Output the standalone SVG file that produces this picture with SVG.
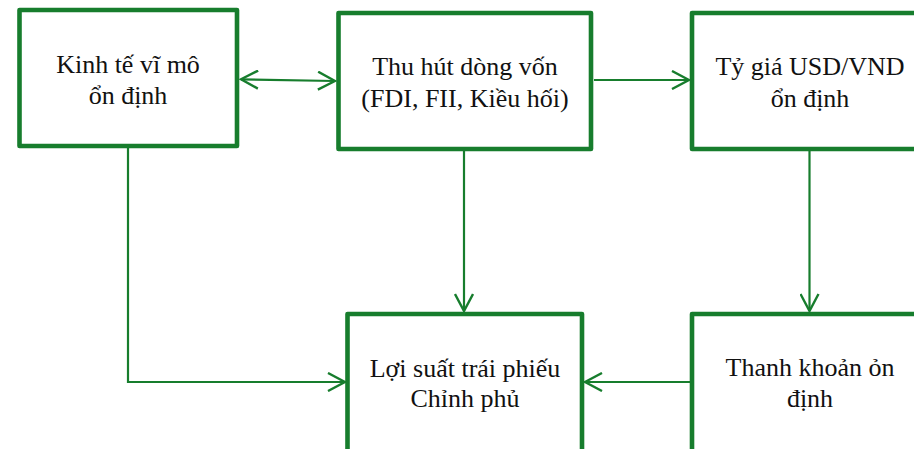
<svg xmlns="http://www.w3.org/2000/svg" width="914" height="449" viewBox="0 0 914 449">
<style>
.box{fill:#fff;stroke:#177d2d;stroke-width:4.6;stroke-linejoin:round}
.con{fill:none;stroke:#177d2d;stroke-width:2.2}
.t{font-family:"Liberation Serif","Times New Roman",serif;font-size:26px;fill:#111;text-anchor:middle}
</style>
<defs>
<marker id="ah" viewBox="0 0 20 20" refX="18" refY="10" markerWidth="20" markerHeight="20" markerUnits="userSpaceOnUse" orient="auto-start-reverse">
<path d="M1,1 L18,10 L1,19" fill="none" stroke="#177d2d" stroke-width="2.4"/>
</marker>
</defs>
<rect width="914" height="449" fill="#fff"/>
<g id="connectors">
<line class="con" x1="241" y1="79.3" x2="335" y2="81" marker-start="url(#ah)" marker-end="url(#ah)"/>
<line class="con" x1="594" y1="80" x2="689" y2="80" marker-end="url(#ah)"/>
<line class="con" x1="464" y1="151" x2="464" y2="311" marker-end="url(#ah)"/>
<line class="con" x1="809.5" y1="151" x2="809.5" y2="311" marker-end="url(#ah)"/>
<polyline class="con" points="128,148 128,382 345,382" marker-end="url(#ah)"/>
<line class="con" x1="690" y1="382" x2="585" y2="382" marker-end="url(#ah)"/>
</g>
<g id="n1">
<rect class="box" x="19.5" y="10" width="217.5" height="136"/>
<text class="t" x="128" y="72.7">Kinh tế vĩ mô</text>
<text class="t" x="128" y="104.3">ổn định</text>
</g>
<g id="n2">
<rect class="box" x="338.5" y="13" width="252.5" height="136"/>
<text class="t" x="465" y="75">Thu hút dòng vốn</text>
<text class="t" x="465" y="106.7">(FDI, FII, Kiều hối)</text>
</g>
<g id="n3">
<rect class="box" x="692" y="13" width="236" height="136"/>
<text class="t" x="810" y="75">Tỷ giá USD/VND</text>
<text class="t" x="810" y="106.5">ổn định</text>
</g>
<g id="n4">
<rect class="box" x="347.5" y="314" width="234.5" height="160"/>
<text class="t" x="465" y="376.7">Lợi suất trái phiếu</text>
<text class="t" x="465" y="406.7">Chỉnh phủ</text>
</g>
<g id="n5">
<rect class="box" x="692" y="314" width="236" height="160"/>
<text class="t" x="810" y="375.5">Thanh khoản ỏn</text>
<text class="t" x="810" y="406.7">định</text>
</g>
</svg>
